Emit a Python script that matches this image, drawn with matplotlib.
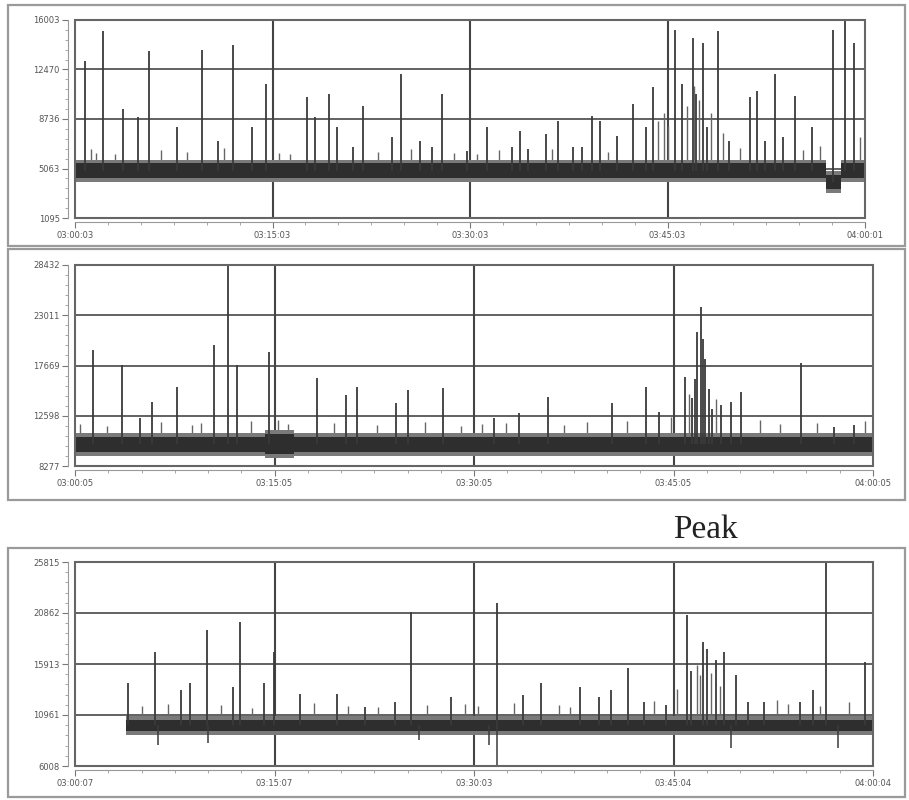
import matplotlib
matplotlib.use("Agg")
import matplotlib.pyplot as plt
from matplotlib.patches import Rectangle
from matplotlib.ticker import MultipleLocator, AutoMinorLocator

# ---- dados (tempo em minutos a partir de 03:00) ----
# painel 1
p1_yticklabels = ["1095", "5063", "8736", "12470", "16003"]
p1_xticklabels = ["03:00:03", "03:15:03", "03:30:03", "03:45:03", "04:00:01"]
p1_ylim = (1095, 16003)
p1_base = [(0.0, 57.0, 4100, 5200), (57.0, 58.2, 3300, 4300), (58.2, 60.0, 4100, 5200)]
p1_spike_t = [0.76, 2.13, 3.64, 4.78, 5.62, 7.74, 9.64, 10.86, 12.0, 13.44, 14.5,
              17.6, 18.2, 19.3, 19.9, 21.1, 21.9, 24.1, 24.75, 26.2, 27.1, 27.9,
              29.8, 31.3, 33.2, 33.8, 34.4, 35.8, 36.7, 37.8, 38.5, 39.3, 39.9,
              41.2, 42.4, 43.4, 43.9, 45.6, 46.1, 46.9, 47.2, 47.7, 48.0, 48.8,
              49.7, 51.3, 51.8, 52.4, 53.2, 53.8, 54.7, 56.0, 57.6, 58.5, 59.2]
p1_spike_v = [12885, 15166, 9310, 8700, 13645, 7940, 13720, 6875, 14100, 7940, 11210,
              10220, 8700, 10450, 7940, 6420, 9540, 7180, 11970, 6875, 6420, 10450,
              6115, 7940, 6420, 7635, 6270, 7410, 8395, 6420, 6420, 8780, 8395,
              7255, 9690, 7940, 10980, 15240, 11210, 14630, 10450, 14250, 7940, 15166,
              6875, 10220, 10680, 6875, 11970, 7180, 10300, 7940, 15240, 16000, 14250]
p1_small_t = [1.2, 1.6, 3.0, 6.5, 8.5, 11.3, 15.5, 16.3, 23.0, 25.5, 28.8, 30.5,
              32.2, 36.2, 40.5, 44.3, 44.7, 45.0, 46.5, 47.0, 47.4, 48.3, 49.2,
              50.5, 55.3, 56.6, 59.6]
p1_small_v = [6300, 6000, 5900, 6200, 6100, 6400, 6000, 5900, 6100, 6300, 6000, 5900,
              6200, 6300, 6100, 8400, 9000, 8000, 9500, 11000, 10000, 9000, 7500,
              6400, 6200, 6500, 7200]

# painel 2
p2_yticklabels = ["8277", "12598", "17669", "23011", "28432"]
p2_xticklabels = ["03:00:05", "03:15:05", "03:30:05", "03:45:05", "04:00:05"]
p2_ylim = (8277, 28432)
p2_base = [(0.0, 14.3, 9700, 11200), (14.3, 16.5, 9500, 11500), (16.5, 60.0, 9700, 11200)]
p2_spike_t = [1.35, 3.53, 4.89, 5.79, 7.67, 10.45, 11.5, 12.18, 14.59, 18.2, 20.4,
              21.2, 24.1, 25.0, 27.7, 31.5, 33.4, 35.6, 40.4, 42.9, 43.9, 45.9,
              46.4, 46.6, 46.8, 47.1, 47.2, 47.4, 47.7, 47.9, 48.6, 49.3, 50.1,
              54.6, 57.1, 58.6]
p2_spike_v = [19910, 18400, 13090, 14700, 16200, 20410, 28430, 18400, 19710, 17100, 15400,
              16200, 14600, 15900, 16100, 13090, 13600, 15200, 14600, 16200, 13700, 17200,
              15100, 17000, 21700, 24220, 21000, 19000, 16000, 14000, 14400, 14700, 15700,
              18600, 12200, 12400]
p2_small_t = [0.4, 2.4, 6.5, 8.8, 9.5, 13.2, 15.3, 16.0, 19.5, 22.7, 26.3, 29.0,
              30.6, 32.4, 36.8, 38.5, 41.5, 44.8, 46.2, 48.2, 51.5, 53.0, 55.8, 59.4]
p2_small_v = [12500, 12300, 12700, 12400, 12600, 12800, 12900, 12500, 12600, 12400, 12700, 12300,
              12500, 12600, 12400, 12700, 12800, 13200, 15500, 15000, 12900, 12500, 12600, 12800]

# painel 3
p3_yticklabels = ["6008", "10961", "15913", "20862", "25815"]
p3_xticklabels = ["03:00:07", "03:15:07", "03:30:03", "03:45:04", "04:00:04"]
p3_ylim = (6008, 25815)
p3_base = [(3.8, 60.0, 9400, 10500)]
p3_spike_t = [4.0, 6.0, 8.0, 8.67, 9.95, 11.9, 12.43, 14.24, 14.95, 16.95, 19.67,
              21.78, 24.04, 25.24, 28.26, 31.73, 33.7, 35.0, 38.0, 39.4, 40.3, 41.6,
              42.8, 44.4, 46.0, 46.3, 47.2, 47.5, 48.2, 48.8, 49.7, 50.6, 51.8,
              54.5, 55.5, 56.5, 59.4]
p3_spike_v = [14070, 17080, 13390, 14070, 19210, 13700, 19990, 14070, 17080, 13000, 13000,
              11700, 12200, 20960, 12700, 21840, 12900, 14070, 13700, 12700, 13400, 15530,
              12200, 11900, 20670, 15200, 18050, 17400, 16300, 17080, 14800, 12200, 12200,
              12200, 13400, 25815, 16100]
p3_dip_t = [6.25, 10.0, 25.9, 31.1, 31.7, 49.3, 57.4]
p3_dip_v = [8000, 8200, 8500, 8000, 6100, 7800, 7800]
p3_small_t = [5.0, 7.0, 11.0, 13.3, 18.0, 20.5, 22.8, 26.5, 29.3, 30.3, 33.0, 36.4,
              37.2, 43.5, 45.3, 46.8, 47.0, 47.8, 48.5, 52.8, 53.6, 56.0, 58.2]
p3_small_v = [11800, 12000, 11900, 11600, 12100, 11800, 11700, 11900, 12000, 11800, 12100, 11900,
              11700, 12300, 13500, 15800, 14800, 15000, 13800, 12400, 12000, 11800, 12200]

paineis = [
    dict(pos=[75, 20, 865, 218], ylim=p1_ylim, ylab=p1_yticklabels, xlab=p1_xticklabels,
         base=p1_base, st=p1_spike_t, sv=p1_spike_v, mt=p1_small_t, mv=p1_small_v,
         dt=[], dv=[]),
    dict(pos=[75, 265, 873, 466], ylim=p2_ylim, ylab=p2_yticklabels, xlab=p2_xticklabels,
         base=p2_base, st=p2_spike_t, sv=p2_spike_v, mt=p2_small_t, mv=p2_small_v,
         dt=[], dv=[]),
    dict(pos=[75, 562, 873, 766], ylim=p3_ylim, ylab=p3_yticklabels, xlab=p3_xticklabels,
         base=p3_base, st=p3_spike_t, sv=p3_spike_v, mt=p3_small_t, mv=p3_small_v,
         dt=p3_dip_t, dv=p3_dip_v),
]

W, H = 909, 800
fig = plt.figure(figsize=(W / 100, H / 100), dpi=100)
fig.patch.set_facecolor("white")

# molduras cinzas em volta de cada painel (em pixels da figura)
for (x0, y0, x1, y1) in [(8, 5, 905, 246), (8, 249, 905, 500), (8, 548, 905, 797)]:
    fig.patches.append(Rectangle((x0 / W, 1 - y1 / H), (x1 - x0) / W, (y1 - y0) / H,
                                 transform=fig.transFigure, fill=False,
                                 edgecolor="#9a9a9a", linewidth=1.6))

linha = "#3a3a3a"
for p in paineis:
    x0, y0, x1, y1 = p["pos"]
    ax = fig.add_axes([x0 / W, 1 - y1 / H, (x1 - x0) / W, (y1 - y0) / H])
    ymin, ymax = p["ylim"]
    ax.set_xlim(0, 60)
    ax.set_ylim(ymin, ymax)

    # grade: verticais a cada 15 min, horizontais nas marcas do eixo y
    passo = (ymax - ymin) / 4
    yt = [ymin + i * passo for i in range(5)]
    for v in yt[1:-1]:
        ax.axhline(v, color="#555555", linewidth=1.3, zorder=1)
    for t in [15, 30, 45]:
        ax.axvline(t, color="#444444", linewidth=1.5, zorder=1)

    # faixa do sinal base: borda mais clara (ruido) + miolo escuro
    margem = passo * 0.08
    for (t0, t1, lo, hi) in p["base"]:
        ax.fill_between([t0, t1], [lo - margem, lo - margem], [hi + margem, hi + margem],
                        color="#7a7a7a", linewidth=0, zorder=3)
        ax.fill_between([t0, t1], [lo, lo], [hi, hi], color="#2e2e2e", linewidth=0, zorder=3)

    def meio(t, segs=p["base"]):
        for (t0, t1, lo, hi) in segs:
            if t0 <= t <= t1:
                return (lo + hi) / 2
        return (segs[0][2] + segs[0][3]) / 2

    # picos pequenos (textura) e picos grandes
    ax.vlines(p["mt"], [meio(t) for t in p["mt"]], p["mv"], color="#666666",
              linewidth=1.0, zorder=2)
    ax.vlines(p["st"], [meio(t) for t in p["st"]], p["sv"], color=linha,
              linewidth=1.3, zorder=4)
    if p["dt"]:
        ax.vlines(p["dt"], [meio(t) for t in p["dt"]], p["dv"], color=linha,
                  linewidth=1.1, zorder=4)

    # caixa do grafico
    ax.add_patch(Rectangle((0, 0), 1, 1, transform=ax.transAxes, fill=False,
                           edgecolor="#666666", linewidth=1.5, zorder=6, clip_on=False))
    for s in ["top", "right"]:
        ax.spines[s].set_visible(False)
    ax.spines["left"].set_position(("outward", 5))
    ax.spines["bottom"].set_position(("outward", 3))
    for s in ["left", "bottom"]:
        ax.spines[s].set_color("#999999")
        ax.spines[s].set_linewidth(0.8)

    ax.set_yticks(yt)
    ax.set_yticklabels(p["ylab"])
    ax.set_xticks([0, 15, 30, 45, 60])
    ax.set_xticklabels(p["xlab"])
    ax.yaxis.set_minor_locator(AutoMinorLocator(5))
    ax.xaxis.set_minor_locator(MultipleLocator(2.5))
    ax.tick_params(axis="both", which="major", length=4, width=0.8, color="#777777",
                   labelsize=6, labelcolor="#555555", pad=2)
    ax.tick_params(axis="both", which="minor", length=2, width=0.6, color="#999999")

fig.text(705 / W, 1 - 530 / H, "Peak", family="Liberation Serif", fontsize=24,
         color="#222222", ha="center", va="center")

fig.savefig("out.png", dpi=100)
